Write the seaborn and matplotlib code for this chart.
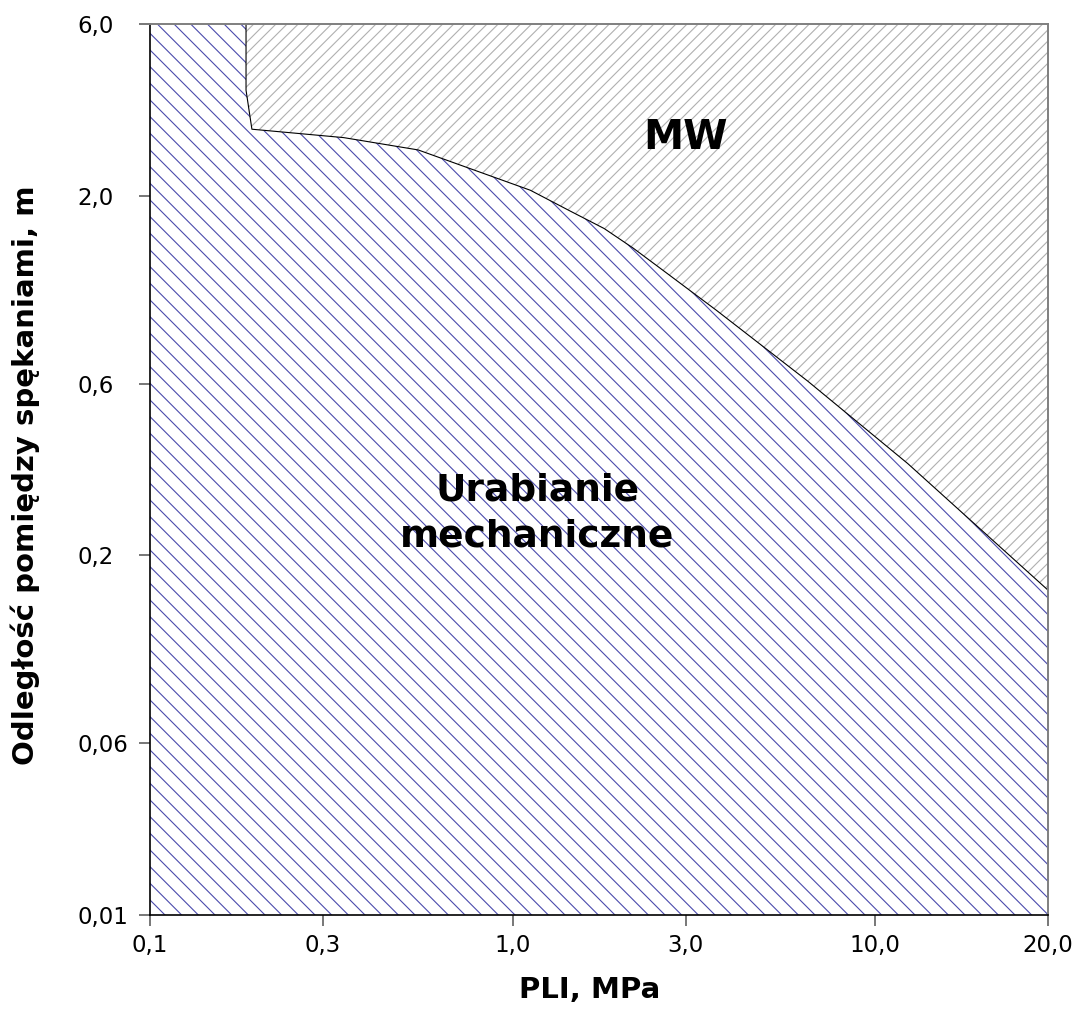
import matplotlib
matplotlib.use('Agg')
import matplotlib.pyplot as plt
import seaborn as sns

# granica stref: PLI [MPa] i odleglosc miedzy spekaniami [m]
pli = [0.184, 0.184, 0.191, 0.342, 0.549, 1.12, 1.43, 1.79, 2.15, 2.60, 3.65, 6.52, 12.3, 30.0]
spacing = [6.0, 3.93, 3.06, 2.90, 2.68, 2.07, 1.82, 1.62, 1.43, 1.24, 0.96, 0.61, 0.36, 0.16]

x_ticks = [0.1, 0.3, 1.0, 3.0, 10.0, 30.0]
x_labels = ['0,1', '0,3', '1,0', '3,0', '10,0', '20,0']
y_ticks = [0.02, 0.06, 0.2, 0.6, 2.0, 6.0]
y_labels = ['0,01', '0,06', '0,2', '0,6', '2,0', '6,0']

zones = ['Urabianie\nmechaniczne', 'MW']
zone_pos = [(1.17, 0.262), (3.0, 2.89)]


def main():
    sns.set_style('white')
    plt.rcParams['font.family'] = ['DejaVu Sans']
    plt.rcParams['hatch.linewidth'] = 0.8
    plt.rcParams['text.color'] = 'black'
    plt.rcParams['axes.labelcolor'] = 'black'

    fig, ax = plt.subplots(figsize=(10.77, 10.10), dpi=100)
    fig.subplots_adjust(left=0.1393, right=0.9731, bottom=0.0941, top=0.9762)

    ax.set_xscale('log')
    ax.set_yscale('log')
    x_min, x_max = x_ticks[0], x_ticks[-1]
    y_min, y_max = y_ticks[0], y_ticks[-1]

    # strefa urabiania mechanicznego (pod granica)
    ax.fill_between([x_min] + pli, y_min, [y_max] + spacing,
                    facecolor='white', edgecolor='#4b4bad', hatch='\\\\', linewidth=0)
    # strefa MW (nad granica)
    ax.fill_between(pli, spacing, y_max,
                    facecolor='white', edgecolor='#b0b0b0', hatch='///', linewidth=0)
    sns.lineplot(x=pli, y=spacing, sort=False, estimator=None,
                 color='black', linewidth=0.8, ax=ax)

    ax.text(*zone_pos[0], zones[0], ha='center', va='center', fontsize=27,
            fontweight='bold', linespacing=1.35, color='black')
    ax.text(*zone_pos[1], zones[1], ha='center', va='center', fontsize=29,
            fontweight='bold', color='black')

    ax.set_xlim(x_min, x_max)
    ax.set_ylim(y_min, y_max)
    ax.set_xticks(x_ticks)
    ax.set_xticklabels(x_labels)
    ax.set_yticks(y_ticks)
    ax.set_yticklabels(y_labels)
    ax.minorticks_off()

    ax.tick_params(axis='both', bottom=True, left=True, length=8, width=1.2,
                   color='#606060', labelcolor='black', direction='out', labelsize=16.5)
    ax.tick_params(axis='x', pad=6)
    ax.tick_params(axis='y', pad=44)
    for lab in ax.get_yticklabels():
        lab.set_horizontalalignment('left')

    ax.set_xlabel('PLI, MPa', fontsize=21, fontweight='bold')
    ax.set_ylabel('Odległość pomiędzy spękaniami, m', fontsize=21, fontweight='bold')
    ax.xaxis.set_label_coords(0.49, -0.068)
    ax.yaxis.set_label_coords(-0.1225, 0.494)

    for side in ['left', 'bottom']:
        ax.spines[side].set_color('black')
        ax.spines[side].set_linewidth(1.2)
    for side in ['top', 'right']:
        ax.spines[side].set_color('#7f7f7f')
        ax.spines[side].set_linewidth(1.4)

    plt.savefig('out.png', dpi=100)


if __name__ == '__main__':
    main()
